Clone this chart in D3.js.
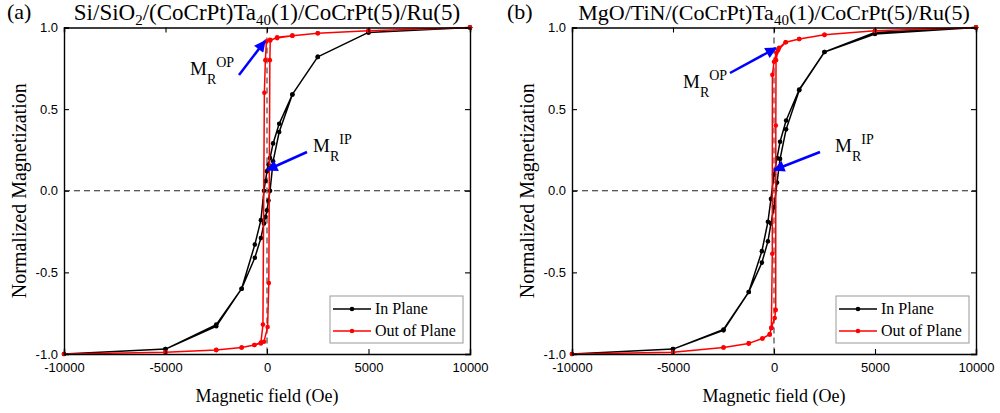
<!DOCTYPE html>
<html>
<head>
<meta charset="utf-8">
<script src="https://cdn.jsdelivr.net/npm/d3@7"></script>
<style>
  body { margin:0; background:#fff; }
  svg text { fill:#000; }
</style>
</head>
<body>
<svg id="chart" width="1000" height="413"></svg>
<script>
const xTicks = [-10000, -5000, 0, 5000, 10000];
const yTicks = [-1, -0.5, 0, 0.5, 1];
const yTickLabels = ['-1.0', '-0.5', '0.0', '0.5', '1.0'];
const seriesNames = ['In Plane', 'Out of Plane'];
const seriesColors = ['#000000', '#ff0000'];

// sweep: from +10000 down to -10000, then back up
const inPlaneA = [[10000,1.0],[5000,0.97],[2500,0.82],[1250,0.59],[600,0.41],[300,0.29],[150,0.2],[75,0.16],[0,0.12],[-75,0.06],[-150,0.0],[-300,-0.18],[-600,-0.33],[-1250,-0.60],[-2500,-0.82],[-5000,-0.97],[-10000,-1.0],
  [-5000,-0.97],[-2500,-0.83],[-1250,-0.60],[-600,-0.41],[-300,-0.29],[-150,-0.2],[-75,-0.16],[0,-0.12],[75,-0.06],[150,0.0],[300,0.18],[600,0.36],[1250,0.59],[2500,0.82],[5000,0.97],[10000,1.0]];
const outPlaneA = [[10000,1.0],[5000,0.98],[2500,0.965],[1250,0.95],[500,0.935],[150,0.925],[-30,0.915],[-80,0.80],[-130,0.60],[-200,-0.82],[-300,-0.93],[-620,-0.945],[-1250,-0.96],[-2500,-0.976],[-5000,-0.99],[-10000,-1.0],
  [-5000,-0.99],[-2500,-0.975],[-1250,-0.96],[-620,-0.945],[-300,-0.935],[-150,-0.925],[30,-0.835],[90,-0.565],[140,0.80],[160,0.92],[500,0.94],[1250,0.95],[2500,0.965],[5000,0.98],[10000,1.0]];
const inPlaneB = [[10000,1.0],[5000,0.97],[2500,0.85],[1250,0.62],[600,0.43],[300,0.30],[150,0.2],[0,0.10],[-150,-0.05],[-300,-0.19],[-600,-0.37],[-1250,-0.62],[-2500,-0.85],[-5000,-0.97],[-10000,-1.0],
  [-5000,-0.97],[-2500,-0.855],[-1250,-0.62],[-600,-0.44],[-300,-0.31],[-150,-0.2],[0,-0.10],[150,0.05],[300,0.195],[600,0.376],[1250,0.616],[2500,0.85],[5000,0.96],[10000,1.0]];
const outPlaneB = [[10000,1.0],[5000,0.98],[2500,0.955],[1250,0.93],[580,0.91],[250,0.875],[120,0.845],[0,0.79],[-80,0.71],[-85,-0.386],[-130,-0.84],[-213,-0.88],[-575,-0.905],[-1250,-0.935],[-2500,-0.96],[-5000,-0.99],[-10000,-1.0],
  [-5000,-0.99],[-2500,-0.96],[-1250,-0.935],[-575,-0.905],[-213,-0.88],[-130,-0.84],[35,-0.78],[85,-0.73],[90,0.40],[100,0.80],[200,0.86],[580,0.91],[1250,0.93],[2500,0.955],[5000,0.98],[10000,1.0]];

const panels = [
  { tag:'(a)', tagX:7, titleSize:23, title:['Si/SiO', '2', '/(CoCrPt)Ta', '40', '(1)/CoCrPt(5)/Ru(5)'], left:64, right:470,
    loops:[inPlaneA, outPlaneA],
    op:{ text:[190,75], from:[239,75], to:[265,41] }, ip:{ text:[313,152], from:[307,152], to:[267,170] } },
  { tag:'(b)', tagX:507, titleSize:22, title:['MgO/TiN/(CoCrPt)Ta', '40', '(1)/CoCrPt(5)/Ru(5)'], left:572, right:976,
    loops:[inPlaneB, outPlaneB],
    op:{ text:[683,88], from:[730,73], to:[776,48] }, ip:{ text:[835,152], from:[820,152], to:[774,170] } }
];
const plotTop = 27.5, plotBottom = 354;
const SERIF = '"Liberation Serif", "Times New Roman", serif';
const SANS = '"Liberation Sans", Arial, sans-serif';

const svg = d3.select('#chart');
svg.append('defs').append('marker')
  .attr('id','head').attr('viewBox','0 0 10 10').attr('refX',9).attr('refY',5)
  .attr('markerWidth',5.2).attr('markerHeight',4.6).attr('orient','auto')
  .attr('markerUnits','strokeWidth')
  .append('path').attr('d','M0,0 L10,5 L0,10 Z').attr('fill','#0000ff');

function serifText(g, x, y, size) {
  return g.append('text').attr('x',x).attr('y',y)
    .style('font-family',SERIF).style('font-size',size+'px').style('fill','#000');
}

function label(g, pos, sup) {
  const t = serifText(g, pos[0], pos[1], 19);
  t.append('tspan').text('M');
  t.append('tspan').attr('dy',9).style('font-size','14px').text('R');
  t.append('tspan').attr('dy',-17).style('font-size','14px').text(sup);
}

function drawPanel(p) {
  const x = d3.scaleLinear().domain([-10000,10000]).range([p.left, p.right]);
  const y = d3.scaleLinear().domain([-1,1]).range([plotBottom, plotTop]);
  const g = svg.append('g');

  // dashed guides
  g.append('line').attr('x1',x(-10000)).attr('x2',x(10000)).attr('y1',y(0)).attr('y2',y(0))
    .attr('stroke','#222').attr('stroke-dasharray','6,4').attr('stroke-width',1);
  g.append('line').attr('x1',x(0)).attr('x2',x(0)).attr('y1',y(1)).attr('y2',y(-1))
    .attr('stroke','#222').attr('stroke-dasharray','6,4').attr('stroke-width',1);

  // loops
  const line = d3.line().x(d=>x(d[0])).y(d=>y(d[1]));
  p.loops.forEach((pts,i)=>{
    g.append('path').datum(pts).attr('d',line).attr('fill','none')
      .attr('stroke',seriesColors[i]).attr('stroke-width',1.5).attr('stroke-linejoin','round');
    g.selectAll(null).data(pts).join('circle')
      .attr('cx',d=>x(d[0])).attr('cy',d=>y(d[1])).attr('r',2.3).attr('fill',seriesColors[i]);
  });

  // axes, ticks inside
  const ax = (a, sel) => {
    sel.call(a);
    sel.select('.domain').attr('stroke','#000').attr('stroke-width',1.4);
    sel.selectAll('.tick line').attr('stroke-width',1.1);
    sel.selectAll('.tick text').style('font-family',SANS).style('font-size','13px');
  };
  ax(d3.axisBottom(x).tickValues(xTicks).tickSize(-5).tickPadding(9).tickFormat(d=>d),
     g.append('g').attr('transform',`translate(0,${plotBottom})`));
  ax(d3.axisTop(x).tickValues(xTicks).tickSize(-5).tickFormat(''),
     g.append('g').attr('transform',`translate(0,${plotTop})`));
  ax(d3.axisLeft(y).tickValues(yTicks).tickSize(-5).tickPadding(6).tickFormat((d,i)=>yTickLabels[i]),
     g.append('g').attr('transform',`translate(${p.left},0)`));
  ax(d3.axisRight(y).tickValues(yTicks).tickSize(-5).tickFormat(''),
     g.append('g').attr('transform',`translate(${p.right},0)`));

  // titles
  serifText(g, p.tagX, 19, 22).text(p.tag);
  const tt = serifText(g, (p.left+p.right)/2, 20, p.titleSize).attr('text-anchor','middle');
  p.title.forEach((s,i)=>{
    const isSub = i % 2 === 1;
    tt.append('tspan').attr('dy', isSub ? 5 : (i ? -5 : 0)).style('font-size', isSub ? '15px' : null).text(s);
  });
  serifText(g, x(0), 402, 18).attr('text-anchor','middle').text('Magnetic field (Oe)');
  serifText(g, 0, 0, 20).attr('transform',`translate(${p.left-38},${y(0)}) rotate(-90)`)
    .attr('text-anchor','middle').text('Normalized Magnetization');

  // legend
  const lx = p.right-140, ly = 296;
  const lg = g.append('g').attr('transform',`translate(${lx},${ly})`);
  lg.append('rect').attr('width',133).attr('height',47).attr('fill','#fff').attr('stroke','#999').attr('stroke-width',1);
  seriesNames.forEach((n,i)=>{
    const yy = 13 + i*22;
    lg.append('line').attr('x1',3).attr('x2',41).attr('y1',yy).attr('y2',yy).attr('stroke',seriesColors[i]).attr('stroke-width',1.5);
    lg.append('circle').attr('cx',22).attr('cy',yy).attr('r',2.3).attr('fill',seriesColors[i]);
    serifText(lg, 45, yy+5, 16).text(n);
  });

  // annotations
  [['OP',p.op],['IP',p.ip]].forEach(([s,a])=>{
    label(g, a.text, s);
    g.append('line').attr('x1',a.from[0]).attr('y1',a.from[1]).attr('x2',a.to[0]).attr('y2',a.to[1])
      .attr('stroke','#0000ff').attr('stroke-width',2.5).attr('marker-end','url(#head)');
  });
}

panels.forEach(drawPanel);
</script>
</body>
</html>
